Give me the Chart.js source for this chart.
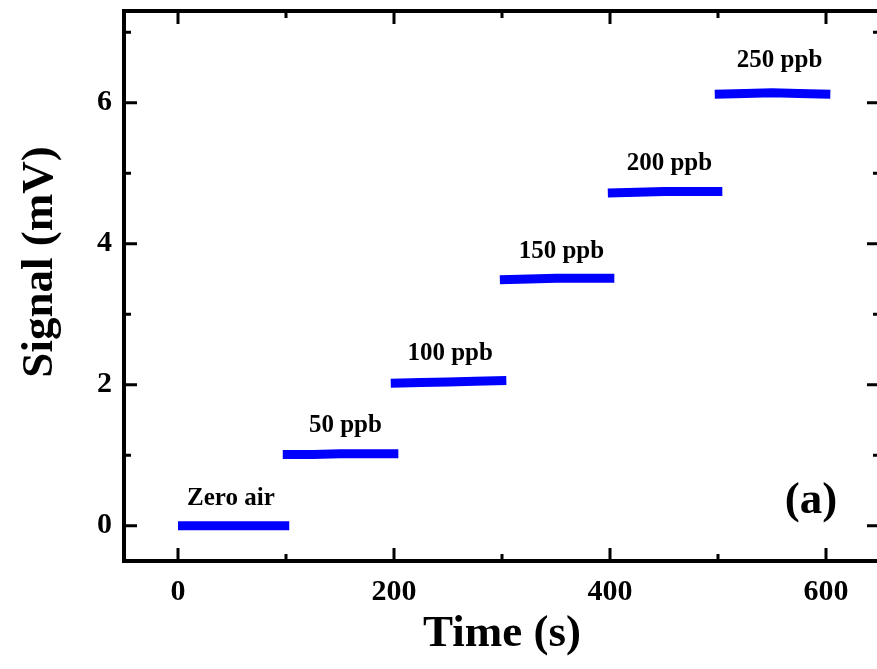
<!DOCTYPE html>
<html>
<head>
<meta charset="utf-8">
<title>Signal vs time</title>
<script src="https://cdn.jsdelivr.net/npm/chart.js@4/dist/chart.umd.min.js"></script>
<style>
    html, body { margin: 0; padding: 0; background: #fff; overflow: hidden; }
    canvas { display: block; }
</style>
</head>
<body>
<canvas id="signalChart" width="900" height="669"></canvas>
<script>
// values: one step per concentration
const stepLabels = ['Zero air', '50 ppb', '100 ppb', '150 ppb', '200 ppb', '250 ppb'];

const zeroTime = [0, 25, 50, 75, 103];
const zeroSignal = [0.00, 0.00, 0.00, 0.00, 0.00];
const ppb50Time = [97, 125, 150, 175, 204];
const ppb50Signal = [1.01, 1.01, 1.02, 1.02, 1.02];
const ppb100Time = [197, 225, 250, 275, 304];
const ppb100Signal = [2.02, 2.03, 2.04, 2.05, 2.06];
const ppb150Time = [298, 325, 350, 375, 404];
const ppb150Signal = [3.49, 3.50, 3.51, 3.51, 3.51];
const ppb200Time = [398, 425, 450, 475, 504];
const ppb200Signal = [4.72, 4.73, 4.74, 4.74, 4.74];
const ppb250Time = [497, 525, 550, 575, 604];
const ppb250Signal = [6.12, 6.13, 6.14, 6.13, 6.12];

// where each step label sits (time, signal)
const labelTime = [49, 155, 252, 355, 455, 557];
const labelSignal = [0.29, 1.33, 2.35, 3.80, 5.04, 6.51];

const xMajorTicks = [0, 200, 400, 600];
const xMinorTicks = [100, 300, 500];
const yMajorTicks = [0, 2, 4, 6];
const yMinorTicks = [1, 3, 5, 7];

const serif = "'Liberation Serif', 'Times New Roman', serif";

const segments = [
    [zeroTime, zeroSignal],
    [ppb50Time, ppb50Signal],
    [ppb100Time, ppb100Signal],
    [ppb150Time, ppb150Signal],
    [ppb200Time, ppb200Signal],
    [ppb250Time, ppb250Signal]
];

const datasets = segments.map(([t, s], i) => ({
    label: stepLabels[i],
    data: t.map((v, k) => ({ x: v, y: s[k] })),
    borderColor: '#0000ff',
    borderWidth: 9,
    pointRadius: 0,
    fill: false,
    tension: 0
}));

// frame with inward ticks on all four sides, plus the text annotations
const framePlugin = {
    id: 'frame',
    afterDraw(chart) {
        const { ctx, chartArea: a, scales: { x, y } } = chart;
        ctx.save();
        ctx.strokeStyle = '#000';
        ctx.lineCap = 'butt';

        const xTicks = (vals, len) => vals.forEach(v => {
            const px = x.getPixelForValue(v);
            ctx.beginPath();
            ctx.moveTo(px, a.bottom); ctx.lineTo(px, a.bottom - len);
            ctx.moveTo(px, a.top); ctx.lineTo(px, a.top + len);
            ctx.stroke();
        });
        const yTicks = (vals, len) => vals.forEach(v => {
            const py = y.getPixelForValue(v);
            ctx.beginPath();
            ctx.moveTo(a.left, py); ctx.lineTo(a.left + len, py);
            ctx.moveTo(a.right, py); ctx.lineTo(a.right - len, py);
            ctx.stroke();
        });
        ctx.lineWidth = 3;
        xTicks(xMajorTicks, 13);
        xTicks(xMinorTicks, 7);
        yTicks(yMajorTicks, 13);
        yTicks(yMinorTicks, 7);

        ctx.lineWidth = 4;
        ctx.strokeRect(a.left, a.top, a.right - a.left, a.bottom - a.top);

        ctx.fillStyle = '#000';
        ctx.textAlign = 'center';
        ctx.textBaseline = 'alphabetic';
        ctx.font = 'bold 25px ' + serif;
        stepLabels.forEach((t, i) => {
            ctx.fillText(t, x.getPixelForValue(labelTime[i]), y.getPixelForValue(labelSignal[i]));
        });

        ctx.font = 'bold 45px ' + serif;
        ctx.fillText('(a)', a.right - 69, a.bottom - 48);

        // y axis title
        ctx.translate(40, 262);
        ctx.rotate(-Math.PI / 2);
        ctx.textBaseline = 'middle';
        ctx.fillText('Signal (mV)', 0, 0);
        ctx.restore();
    }
};

const noPad = s => { s.paddingTop = 0; s.paddingBottom = 0; s.paddingLeft = 0; s.paddingRight = 0; };

new Chart(document.getElementById('signalChart'), {
    type: 'line',
    data: { datasets },
    options: {
        responsive: false,
        animation: false,
        layout: { padding: { top: 11, right: 20, left: 0, bottom: 0 } },
        plugins: { legend: { display: false }, tooltip: { enabled: false } },
        scales: {
            x: {
                type: 'linear',
                min: -50,
                max: 650,
                grid: { display: false, drawTicks: false },
                border: { display: false },
                afterBuildTicks: s => { s.ticks = xMajorTicks.map(v => ({ value: v })); },
                afterFit: s => { s.height = 108; noPad(s); },
                ticks: {
                    padding: 13,
                    color: '#000',
                    font: { family: serif, size: 30, weight: 'bold' }
                },
                title: {
                    display: true,
                    text: 'Time (s)',
                    color: '#000',
                    padding: { bottom: 8, top: 0 },
                    font: { family: serif, size: 45, weight: 'bold' }
                }
            },
            y: {
                min: -0.5,
                max: 7.3,
                grid: { display: false, drawTicks: false },
                border: { display: false },
                afterBuildTicks: s => { s.ticks = yMajorTicks.map(v => ({ value: v })); },
                afterFit: s => { s.width = 124; noPad(s); },
                ticks: {
                    padding: 12,
                    color: '#000',
                    font: { family: serif, size: 30, weight: 'bold' }
                }
            }
        }
    },
    plugins: [framePlugin]
});
</script>
</body>
</html>
